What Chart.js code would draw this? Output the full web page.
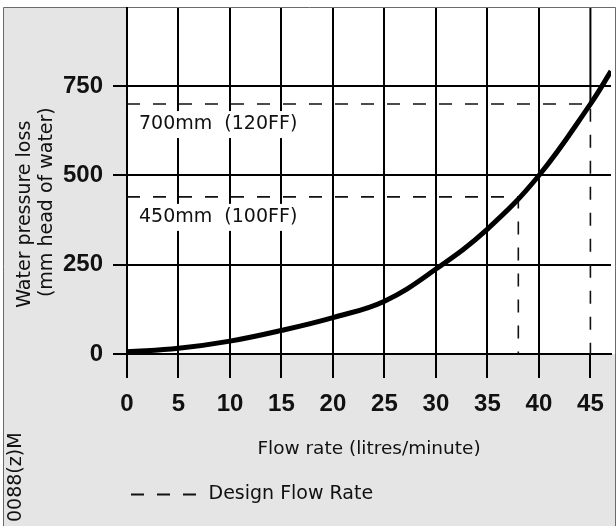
<!DOCTYPE html>
<html><head><meta charset="utf-8">
<script src="https://cdn.jsdelivr.net/npm/chart.js@4/dist/chart.umd.min.js"></script>
<style>html,body{margin:0;padding:0;background:#fff}#wrap{width:616px;height:526px}canvas{display:block}</style>
</head><body><div id="wrap"><canvas id="c" width="616" height="526"></canvas></div>
<script>
// ---- data ----
const flowRate = [0, 5, 10, 15, 20, 25, 30, 35, 40, 45, 47];
const pressureLoss = [6, 16, 36, 66, 102, 148, 238, 350, 500, 700, 792];
const designFlow = [45, 38];
const designLoss = [700, 440];
const designLabels = ['700mm  (120FF)', '450mm  (100FF)'];
const xTicks = [0, 5, 10, 15, 20, 25, 30, 35, 40, 45];
const yTicks = [0, 250, 500, 750];
const xMax = 47;
const yMax = 969;
const xTitle = 'Flow rate (litres/minute)';
const yTitle = ['Water pressure loss           ', '(mm head of water)       '];
const legendLabel = 'Design Flow Rate';
const codeLabel = '0088(z)M';

const curveData = flowRate.map((x, i) => ({x: x, y: pressureLoss[i]}));
const designData = [];
designFlow.forEach((f, i) => {
  designData.push({x: 0, y: designLoss[i]}, {x: f, y: designLoss[i]}, {x: f, y: 0}, {x: f, y: null});
});
// the x=45 grid line is solid only above the 700 mm design line (dashed below it)
const gridTopData = [{x: designFlow[0], y: designLoss[0]}, {x: designFlow[0], y: yMax}];

const TXT = '#111';
const boldTick = {family: '"Liberation Sans", Arial, sans-serif', size: 24, weight: 'bold'};

const framePlugin = {
  id: 'frame',
  beforeDraw(chart) {
    const {ctx, chartArea: a} = chart;
    ctx.save();
    ctx.fillStyle = '#fff'; ctx.fillRect(0, 0, 616, 526);
    ctx.fillStyle = '#e5e5e5'; ctx.fillRect(3, 7, 613, 519);
    ctx.fillStyle = '#fff'; ctx.fillRect(a.left, 8, 615 - a.left, a.bottom - 8);
    ctx.strokeStyle = '#6a6a6a'; ctx.lineWidth = 1;
    ctx.beginPath(); ctx.moveTo(3.5, 526); ctx.lineTo(3.5, 7.5); ctx.lineTo(615.5, 7.5); ctx.lineTo(615.5, 526); ctx.stroke();
    ctx.restore();
  },
  beforeDatasetsDraw(chart) {
    const {ctx, scales: {x, y}} = chart;
    ctx.save();
    ctx.font = '19px "DejaVu Sans"';
    ctx.textBaseline = 'middle'; ctx.textAlign = 'left';
    designLabels.forEach((t, i) => {
      const px = x.getPixelForValue(0) + 12;
      const py = y.getPixelForValue(designLoss[i]) + 20;
      const w = ctx.measureText(t).width;
      ctx.fillStyle = '#fff';
      ctx.fillRect(px - 3, py - 13, w + 6, 27);
      ctx.fillStyle = TXT;
      ctx.fillText(t, px, py);
    });
    ctx.restore();
  },
  afterDraw(chart) {
    const {ctx} = chart;
    ctx.save();
    ctx.font = '19px "DejaVu Sans"';
    ctx.fillStyle = TXT; ctx.textBaseline = 'middle'; ctx.textAlign = 'left';
    ctx.translate(16.5, 522); ctx.rotate(-Math.PI / 2);
    ctx.fillText(codeLabel, 0, 0);
    ctx.restore();
  }
};

Chart.defaults.font.family = '"DejaVu Sans", sans-serif';
Chart.defaults.color = TXT;

new Chart(document.getElementById('c'), {
  type: 'line',
  data: {
    datasets: [
      {label: 'Water pressure loss', data: curveData, borderColor: '#000', borderWidth: 5,
       pointRadius: 0, tension: 0.4, borderCapStyle: 'butt', fill: false},
      {label: legendLabel, data: designData, borderColor: '#111', borderWidth: 1.6, borderDash: [13, 13],
       pointRadius: 0, spanGaps: false, fill: false, tension: 0},
      {label: 'grid', data: gridTopData, borderColor: '#000', borderWidth: 2, pointRadius: 0, fill: false, tension: 0}
    ]
  },
  options: {
    responsive: false, animation: false, devicePixelRatio: 1,
    layout: {padding: {top: 8, right: 5, left: 0, bottom: 12}},
    plugins: {
      tooltip: {enabled: false},
      legend: {
        display: true, position: 'bottom', align: 'start', fullSize: false,
        labels: {
          usePointStyle: true, pointStyleWidth: 68, padding: 4, color: TXT,
          font: {family: '"DejaVu Sans"', size: 19},
          generateLabels: () => [{text: legendLabel, pointStyle: 'line', strokeStyle: '#111', fillStyle: '#111',
            lineWidth: 2, lineDash: [13, 13], lineDashOffset: 0, hidden: false, datasetIndex: 1, fontColor: TXT}]
        }
      }
    },
    scales: {
      x: {
        type: 'linear', min: 0, max: xMax,
        afterBuildTicks: s => { s.ticks = xTicks.map(v => ({value: v})); },
        afterFit: s => { s.height = 127; s.paddingLeft = 0; s.paddingRight = 0; },
        grid: {
          color: c => (c.tick && c.tick.value === designFlow[0]) ? 'rgba(0,0,0,0)' : '#000',
          tickColor: '#000', lineWidth: 2, tickLength: 24, drawTicks: true
        },
        border: {display: true, color: '#000', width: 2},
        ticks: {color: TXT, font: boldTick, padding: 12, maxRotation: 0, autoSkip: false},
        title: {display: true, text: xTitle, color: TXT, font: {family: '"DejaVu Sans"', size: 18.5}, padding: {top: 0, bottom: 21}}
      },
      y: {
        type: 'linear', min: 0, max: yMax,
        afterBuildTicks: s => { s.ticks = yTicks.map(v => ({value: v})); },
        afterFit: s => { s.width = 127; s.paddingTop = 0; s.paddingBottom = 0; },
        grid: {color: '#000', lineWidth: 2, tickLength: 14, drawTicks: true},
        border: {display: true, color: '#000', width: 2},
        ticks: {color: TXT, font: boldTick, padding: 10},
        title: {display: true, text: yTitle, color: TXT, font: {family: '"DejaVu Sans"', size: 19, lineHeight: 1.16}, padding: {top: 14, bottom: 0}}
      }
    }
  },
  plugins: [framePlugin]
});
</script>
</body></html>
